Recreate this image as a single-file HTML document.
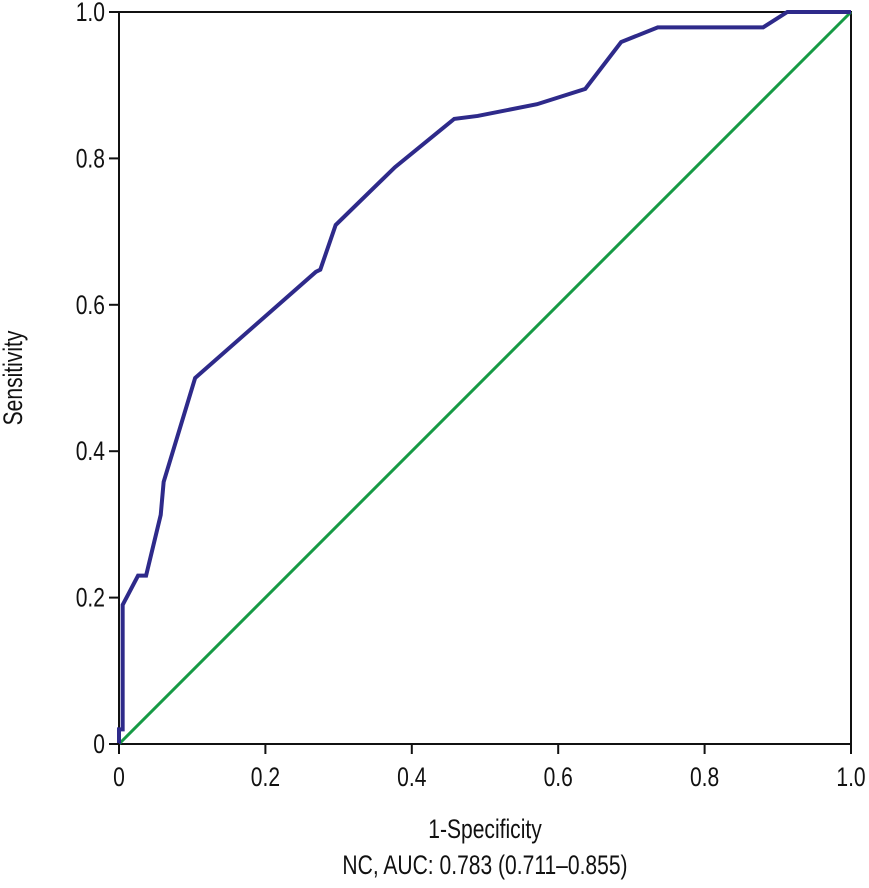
<!DOCTYPE html>
<html><head><meta charset="utf-8"><style>
html,body{margin:0;padding:0;background:#fff;}
svg text{font-family:"Liberation Sans Narrow","Liberation Sans",sans-serif;fill:#111;}
</style></head><body>
<svg id="chart" width="869" height="883" viewBox="0 0 869 883"></svg>
<script>
const fprValues=[0,0,0.005,0.005,0.026,0.037,0.057,0.061,0.104,0.269,0.275,0.296,0.377,0.458,0.49,0.571,0.637,0.686,0.736,0.88,0.913,1.0];
const tprValues=[0,0.02,0.02,0.19,0.23,0.23,0.313,0.358,0.5,0.645,0.648,0.709,0.788,0.854,0.858,0.874,0.895,0.959,0.979,0.979,1.0,1.0];
const refX=[0,1];
const refY=[0,1];
const xTicks=[0,0.2,0.4,0.6,0.8,1.0];
const xTickLabels=["0","0.2","0.4","0.6","0.8","1.0"];
const yTicks=[0,0.2,0.4,0.6,0.8,1.0];
const yTickLabels=["0","0.2","0.4","0.6","0.8","1.0"];

const X0=119,X1=851,Y0=744,Y1=12;
const sx=v=>X0+(X1-X0)*v;
const sy=v=>Y0-(Y0-Y1)*v;
const svg=document.getElementById('chart');
const NS='http://www.w3.org/2000/svg';
function mk(tag,attrs,parent){const e=document.createElementNS(NS,tag);for(const k in attrs)e.setAttribute(k,attrs[k]);(parent||svg).appendChild(e);return e;}
function txt(x,y,s,anchor,size,rot){
  const g=mk('g',{transform:'translate('+x+' '+y+')'+(rot?' rotate(-90)':'')+' scale(0.78 1)'});
  const t=mk('text',{x:0,y:0,'text-anchor':anchor,'font-size':size},g);
  t.textContent=s;
  return t;
}

const frame=mk('rect',{x:X0,y:Y1,width:X1-X0,height:Y0-Y1,fill:'none',stroke:'#111','stroke-width':2});



const ref=mk('polyline',{points:refX.map((v,i)=>sx(v)+','+sy(refY[i])).join(' '),fill:'none',stroke:'#169a45','stroke-width':3});



const roc=mk('polyline',{points:fprValues.map((v,i)=>sx(v)+','+sy(tprValues[i])).join(' '),fill:'none',stroke:'#2e2a8a','stroke-width':4});



xTicks.forEach((v,i)=>{
  const t=mk('line',{x1:sx(v),x2:sx(v),y1:Y0,y2:Y0+10,stroke:'#111','stroke-width':2});
  
  
  const l=txt(sx(v),Y0+42,xTickLabels[i],'middle',27);
  
  
});
yTicks.forEach((v,i)=>{
  const t=mk('line',{x1:X0-10,x2:X0,y1:sy(v),y2:sy(v),stroke:'#111','stroke-width':2});
  
  
  const l=txt(X0-14,sy(v)+9,yTickLabels[i],'end',27);
  
  
});
const xt=txt(485,838,'1-Specificity','middle',27);


const st=txt(485,874,'NC, AUC: 0.783 (0.711–0.855)','middle',27);


const yt=txt(22,378,'Sensitivity','middle',27,true);


</script>
</body></html>
